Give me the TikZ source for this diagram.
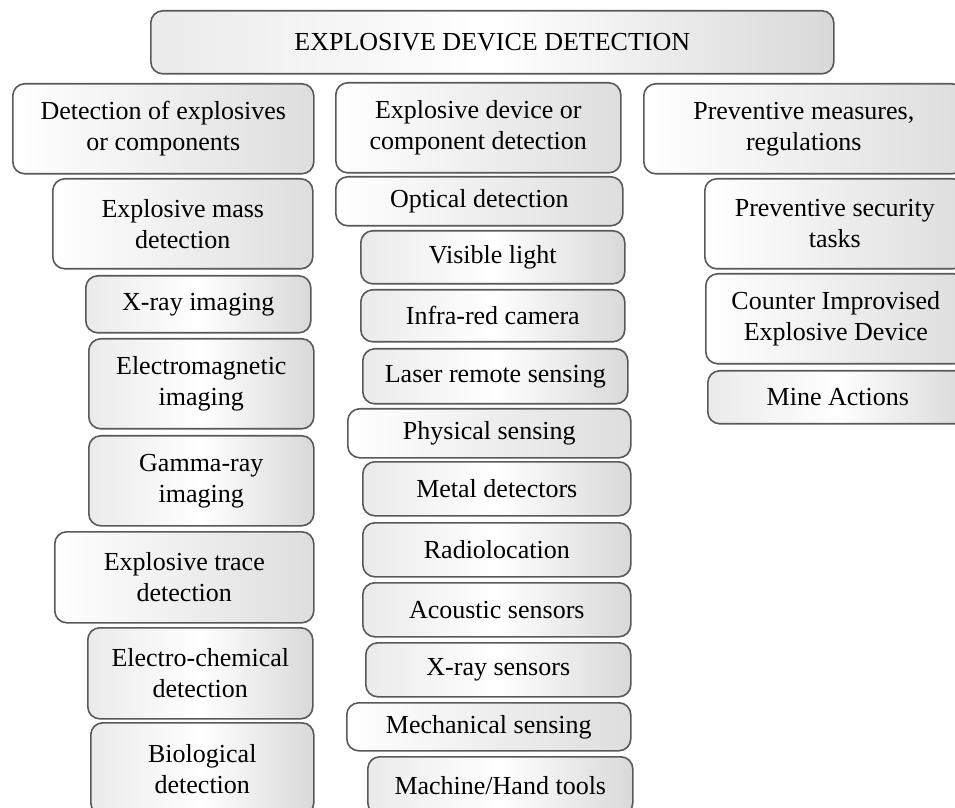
\documentclass[tikz,border=0pt]{standalone}
\usepackage{fontspec}
\setmainfont{Liberation Serif}
\begin{document}
\begin{tikzpicture}[x=0.5pt, y=-0.5pt,
  box/.style={draw=black!65, line width=0.8pt, rounded corners=6pt, align=center,
    anchor=north west, inner sep=0pt, font=\fontsize{13}{15.5}\selectfont},
  sz/.style 2 args={minimum width=#1*0.5pt, minimum height=#2*0.5pt},
  head/.style={box, left color=white, right color=black!13},
  item/.style={box, left color=black!8, right color=black!15, middle color=white}]
  \clip (0,0) rectangle (955,808);
  \fill[white] (0,0) rectangle (955,808);

  % top
  \node[item, sz={683}{63}] (top) at (150,10) {EXPLOSIVE DEVICE DETECTION};

  % first column
  \node[head, sz={301}{90}] (expl) at (12,83) {Detection of explosives\\or components};
  \node[head, sz={260}{90}] (mass) at (52,178) {Explosive mass\\detection};
  \node[item, sz={225}{57}] (xray) at (85,275) {X-ray imaging};
  \node[item, sz={225}{90}] (emag) at (88,338) {Electromagnetic\\imaging};
  \node[item, sz={225}{90}] (gamma) at (88,435) {Gamma-ray\\imaging};
  \node[head, sz={259}{91}] (trace) at (54,531) {Explosive trace\\detection};
  \node[item, sz={225}{91}] (echem) at (87,627) {Electro-chemical\\detection};
  \node[item, sz={223}{92}] (bio) at (90,722) {Biological\\detection};

  % second column
  \node[head, sz={285}{90}] (dev) at (335,82) {Explosive device or\\component detection};
  \node[head, sz={287}{49}] (optic) at (335,176) {Optical detection};
  \node[item, sz={264}{53}] (vis) at (360,230) {Visible light};
  \node[item, sz={264}{52}] (ired) at (360,289) {Infra-red camera};
  \node[item, sz={265}{55}] (laser) at (362,348) {Laser remote sensing};
  \node[head, sz={283}{49}] (phys) at (347,408) {Physical sensing};
  \node[item, sz={268}{54}] (metal) at (362,461) {Metal detectors};
  \node[item, sz={268}{54}] (radio) at (362,522) {Radiolocation};
  \node[item, sz={268}{54}] (acou) at (362,582) {Acoustic sensors};
  \node[item, sz={265}{54}] (xsens) at (365,642) {X-ray sensors};
  \node[head, sz={284}{48}] (mech) at (346,702) {Mechanical sensing};
  \node[item, sz={265}{58}] (tools) at (367,756) {Machine/Hand tools};

  % third column
  \node[head, sz={320}{90}] (prev) at (643,83) {Preventive measures,\\regulations};
  \node[head, sz={260}{90}] (secur) at (704,178) {Preventive security\\tasks};
  \node[head, sz={260}{90}] (cied) at (705,273) {Counter Improvised\\Explosive Device};
  \node[item, sz={260}{53}] (mine) at (707,370) {Mine Actions};
\end{tikzpicture}
\end{document}
